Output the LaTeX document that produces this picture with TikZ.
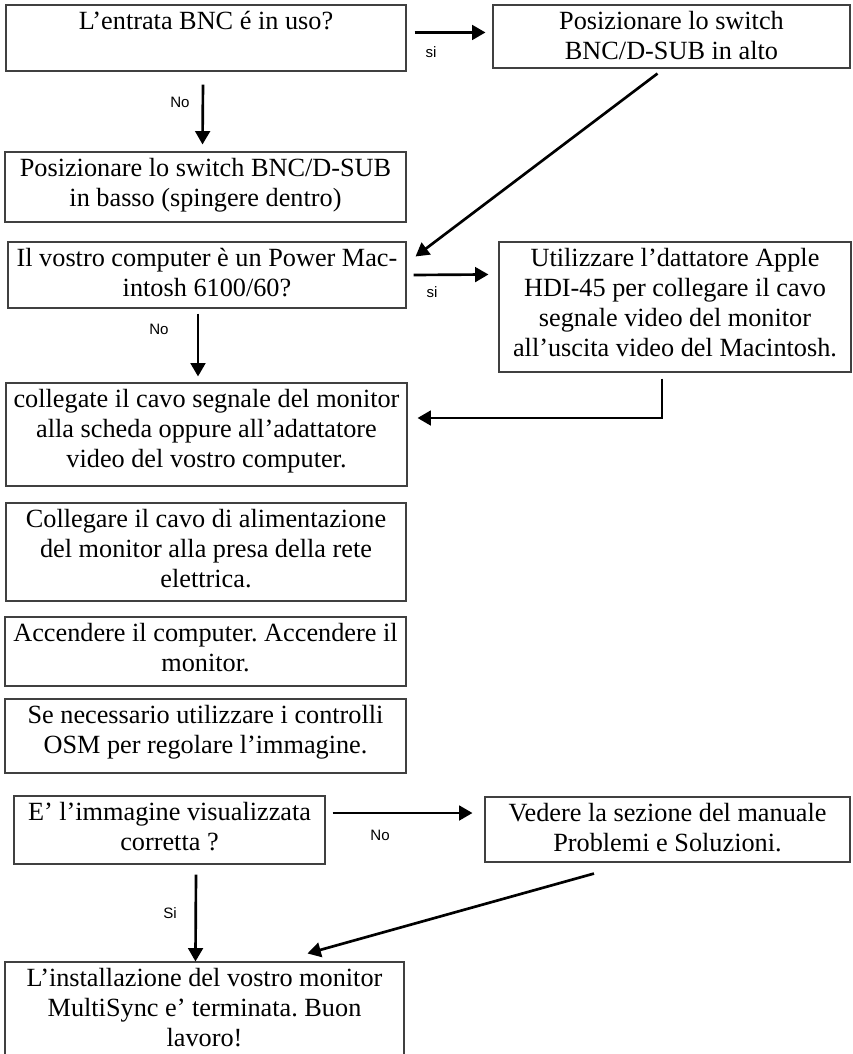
\documentclass[tikz,border=0pt]{standalone}
\usepackage{fontspec}
\setmainfont{Liberation Serif}
\newfontfamily\labfont{Liberation Sans}
\usetikzlibrary{arrows.meta,calc}
\frenchspacing
\newdimen\px \px=0.75pt
\newcommand\bx[3]{\parbox[c][#2\px][t]{#1\px}{\frenchspacing\centering\rule{0pt}{24\px}#3\par}}
\tikzset{
  x=0.75pt, y=-0.75pt,
  box/.style={draw=black!75, line width=0.8pt, inner sep=0pt, font=\fontsize{19.7}{22.5}\selectfont},
  lbl/.style={inner sep=0pt, font=\labfont\fontsize{11.3}{13}\selectfont},
  conn/.style={line width=2pt, -{Triangle[length=10pt,width=11pt]}},
}
\begin{document}
\begin{tikzpicture}
\clip (0,0) rectangle (853,1054);
\useasboundingbox (0,0) rectangle (853,1054);
\fill[white] (0,0) rectangle (853,1054);

\node[box] (b1) at (206,38) {\bx{400}{66}{L’entrata BNC é in uso?}};
\node[box] (b2) at (671.5,36.5) {\bx{357}{63}{Posizionare lo switch\\BNC/D-SUB in alto}};
\node[box] (b3) at (205.5,187) {\bx{401}{70}{Posizionare lo switch BNC/D-SUB\\in basso (spingere dentro)}};
\node[box] (b4) at (207,275) {\bx{398}{66}{Il vostro computer è un Power Mac-\\intosh 6100/60?}};
\node[box] (b5) at (675,307) {\bx{352}{130}{Utilizzare l’dattatore Apple\\HDI-45 per collegare il cavo\\segnale video del monitor\\all’uscita video del Macintosh.}};
\node[box] (b6) at (206.5,434.5) {\bx{401}{103}{collegate il cavo segnale del monitor\\alla scheda oppure all’adattatore\\video del vostro computer.}};
\node[box] (b7) at (206,552) {\bx{400}{98}{Collegare il cavo di alimentazione\\del monitor alla presa della rete\\elettrica.}};
\node[box] (b8) at (205.5,651.5) {\bx{401}{69}{Accendere il computer. Accendere il\\monitor.}};
\node[box] (b9) at (205.5,736) {\bx{401}{74}{Se necessario utilizzare i controlli\\OSM per regolare l’immagine.}};
\node[box] (b10) at (169.5,830) {\bx{311}{68}{E’ l’immagine visualizzata\\corretta ?}};
\node[box] (b11) at (667.5,829.5) {\bx{365}{65}{Vedere la sezione del manuale\\Problemi e Soluzioni.}};
\node[box] (b12) at (204.5,1021) {\bx{399}{118}{L’installazione del vostro monitor\\MultiSync e’ terminata. Buon\\lavoro!}};

\draw[conn] ($(b1.north east)+(8,28)$) -- ($(b2.north west)+(-7,28)$);
\draw[conn] ($(b1.south)+(-3,13)$) -- ($(b3.north)+(-3,-7)$);
\draw[conn] ($(b2.south)+(-14,5)$) -- ($(b4.north east)+(9,15)$);
\draw[conn] ($(b4.east)+(7,0)$) -- ($(b5.north west)+(-10,33)$);
\draw[conn] ($(b4.south)+(-9,5)$) -- ($(b6.north)+(-8.5,-6)$);
\draw[conn] ($(b5.south)+(-13,6)$) |- ($(b6.east)+(10,-16.5)$);
\draw[conn] ($(b10.east)+(7,-17)$) -- ($(b11.west)+(-12,-16.5)$);
\draw[conn] ($(b10.south)+(26.5,10)$) -- ($(b12.north west)+(191,0)$);
\draw[conn] ($(b11.south)+(-73.5,11)$) -- ($(b12.north west)+(303,-8)$);

\node[lbl] (l1) at (180,102) {No};
\node[lbl] (l2) at (431,52) {si};
\node[lbl] (l3) at (432,292) {si};
\node[lbl] (l4) at (159,329) {No};
\node[lbl] (l5) at (380,835) {No};
\node[lbl] (l6) at (170,913) {Si};
\end{tikzpicture}
\end{document}
